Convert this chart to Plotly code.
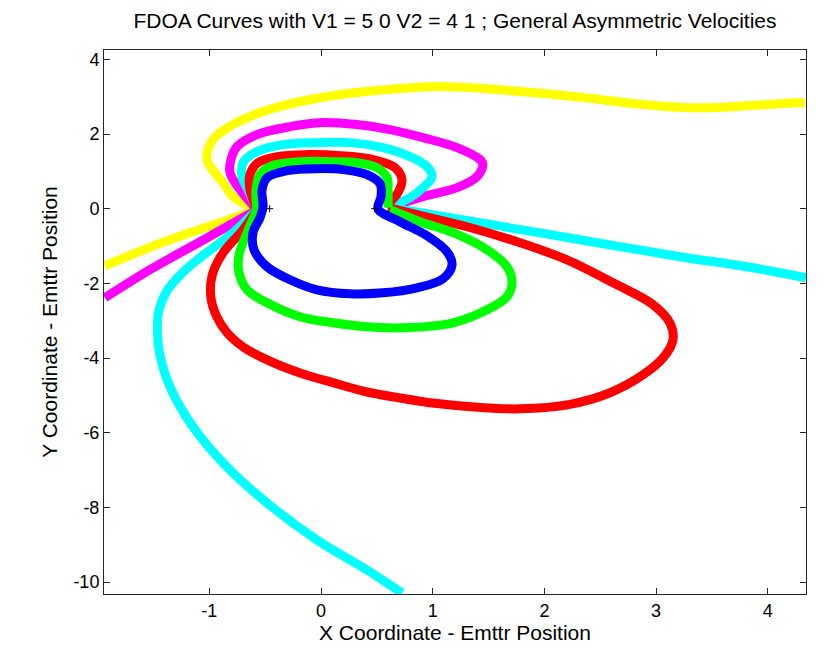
import plotly.graph_objects as go

# FDOA iso-curves for two moving emitters; each curve is split into
# segments at the emitter positions, where the branches meet.

yellow_x = [
    [-1.934, -1.379, -0.904, -0.573],
    [-0.573, -0.788, -0.877, -1.021, -0.967, -0.788, -0.546, -0.304, 0.054, 0.322,
     0.707, 1.065, 1.450, 1.898, 2.346, 2.793, 3.241, 3.545, 3.841, 4.136, 4.333],
]
yellow_y = [
    [-1.528, -0.858, -0.375, -0.027],
    [-0.027, 0.322, 0.697, 1.314, 1.850, 2.252, 2.574, 2.788, 3.003, 3.110,
     3.217, 3.271, 3.217, 3.110, 2.976, 2.815, 2.708, 2.708, 2.761, 2.815, 2.842],
]

magenta_x = [
    [-1.934, -1.531, -1.083, -0.573],
    [-0.573, -0.725, -0.815, -0.806, -0.752, -0.573, -0.278, 0.018, 0.322, 0.618,
     0.913, 1.218, 1.423, 1.450, 1.397, 1.218, 0.913, 0.680, 0.600],
]
magenta_y = [
    [-2.386, -1.635, -0.885, -0.027],
    [-0.027, 0.509, 0.965, 1.314, 1.662, 1.984, 2.198, 2.306, 2.252, 2.118,
     1.903, 1.635, 1.314, 1.180, 0.858, 0.563, 0.322, 0.107, 0.027],
]

cyan_x = [
    [0.725, 0.412, -0.036, -0.483, -0.842, -1.146, -1.352, -1.440, -1.465, -1.450,
     -1.390, -1.300, -1.160, -0.980, -0.788, -0.573],
    [-0.573, -0.654, -0.707, -0.698, -0.573, -0.340, -0.036, 0.260, 0.555, 0.797,
     0.949, 0.994, 0.913, 0.797, 0.600],
    [0.600, 1.423, 2.319, 3.214, 3.814, 4.342],
]
cyan_y = [
    [-10.295, -9.678, -8.874, -7.882, -6.917, -5.845, -4.772, -3.950, -3.350, -2.700,
     -2.250, -1.900, -1.500, -1.080, -0.643, -0.027],
    [-0.027, 0.509, 0.858, 1.233, 1.528, 1.716, 1.769, 1.769, 1.635, 1.394,
     1.126, 0.858, 0.563, 0.295, 0.040],
    [0.040, -0.375, -0.831, -1.287, -1.555, -1.850],
]

red_x = [
    [-0.573, -0.698, -0.877, -0.976, -0.985, -0.940, -0.842, -0.698, -0.483, -0.188,
     0.107, 0.412, 0.707, 1.040, 1.400, 1.780, 2.229, 2.587, 2.883, 3.070,
     3.151, 3.124, 2.963, 2.650, 2.202, 1.755, 1.307, 0.859, 0.600],
    [-0.573, -0.636, -0.636, -0.564, -0.394, -0.125, 0.170, 0.466, 0.662, 0.725,
     0.689, 0.618, 0.600],
]
red_y = [
    [-0.027, -0.563, -1.180, -1.800, -2.400, -2.850, -3.320, -3.700, -4.050, -4.400,
     -4.660, -4.910, -5.070, -5.220, -5.320, -5.360, -5.240, -4.930, -4.450, -3.970,
     -3.510, -3.060, -2.550, -2.040, -1.370, -0.885, -0.483, -0.161, 0.027],
    [-0.027, 0.509, 0.912, 1.233, 1.394, 1.448, 1.421, 1.314, 1.099, 0.777,
     0.429, 0.161, 0.027],
]

green_x = [
    [-0.573, -0.662, -0.734, -0.734, -0.662, -0.483, -0.188, 0.107, 0.412, 0.725,
     1.182, 1.486, 1.665, 1.710, 1.665, 1.486, 1.182, 0.886, 0.618],
    [-0.573, -0.582, -0.546, -0.439, -0.188, 0.081, 0.322, 0.501, 0.591, 0.600,
     0.600],
]
green_y = [
    [-0.027, -0.643, -1.233, -1.716, -2.172, -2.520, -2.895, -3.056, -3.164, -3.190,
     -3.056, -2.708, -2.359, -1.984, -1.555, -1.099, -0.643, -0.349, -0.027],
    [-0.027, 0.509, 0.912, 1.153, 1.260, 1.260, 1.233, 1.099, 0.831, 0.456,
     0.027],
]

blue_x = [
    [-0.519, -0.528, -0.483, -0.304, -0.036, 0.197, 0.412, 0.528, 0.537, 0.510,
     0.707, 0.949, 1.128, 1.173, 1.092, 0.859, 0.555, 0.260, -0.036, -0.278,
     -0.483, -0.600, -0.609, -0.546, -0.519],
]
blue_y = [
    [0.054, 0.509, 0.831, 1.019, 1.072, 1.046, 0.912, 0.670, 0.322, 0.000,
     -0.349, -0.724, -1.153, -1.501, -1.877, -2.118, -2.252, -2.279, -2.172, -1.903,
     -1.555, -1.099, -0.643, -0.241, 0.054],
]

emitter_x = [-0.46, 0.48]
emitter_y = [0.0, 0.0]

x_ticks = [-1, 0, 1, 2, 3, 4]
x_labels = ["-1", "0", "1", "2", "3", "4"]
y_ticks = [-10, -8, -6, -4, -2, 0, 2, 4]
y_labels = ["-10", "-8", "-6", "-4", "-2", "0", "2", "4"]
x_range = [-1.943, 4.342]
y_range = [-10.32, 4.25]

curves = [
    ("#FFFF00", yellow_x, yellow_y),
    ("#FF00FF", magenta_x, magenta_y),
    ("#00FFFF", cyan_x, cyan_y),
    ("#FF0000", red_x, red_y),
    ("#00FF00", green_x, green_y),
    ("#0000FF", blue_x, blue_y),
]

fig = go.Figure()
for color, xs, ys in curves:
    for sx, sy in zip(xs, ys):
        fig.add_trace(go.Scatter(
            x=sx, y=sy, mode="lines",
            line=dict(color=color, width=9, shape="spline", smoothing=1.0),
            hoverinfo="skip", showlegend=False,
        ))

fig.add_trace(go.Scatter(
    x=emitter_x, y=emitter_y, mode="markers",
    marker=dict(symbol="cross-thin", size=5, line=dict(color="black", width=1)),
    hoverinfo="skip", showlegend=False,
))

font = "Liberation Sans, Arial, Helvetica, sans-serif"
axis_common = dict(
    showgrid=False, zeroline=False, showline=True, linecolor="#262626",
    linewidth=1, mirror="allticks", ticks="inside", ticklen=6, automargin=False,
    tickcolor="#262626", tickfont=dict(family=font, size=18, color="black"),
)

fig.update_layout(
    width=831, height=650,
    margin=dict(l=104, r=25, t=50, b=56),
    paper_bgcolor="white", plot_bgcolor="white",
    title=dict(
        text="FDOA Curves with V1 = 5 0 V2 = 4 1 ; General Asymmetric Velocities",
        xref="paper", x=0.5, xanchor="center", y=0.968, yanchor="middle",
        font=dict(family=font, size=21, color="black"),
    ),
    xaxis=dict(range=x_range, tickvals=x_ticks, ticktext=x_labels, **axis_common,
               title=dict(text="X Coordinate - Emttr Position", standoff=4,
                          font=dict(family=font, size=21, color="black"))),
    yaxis=dict(range=y_range, tickvals=y_ticks, ticktext=y_labels, **axis_common,
               title=dict(text="Y Coordinate - Emttr Position", standoff=10,
                          font=dict(family=font, size=21, color="black"))),
)

fig.write_html("out.html")
